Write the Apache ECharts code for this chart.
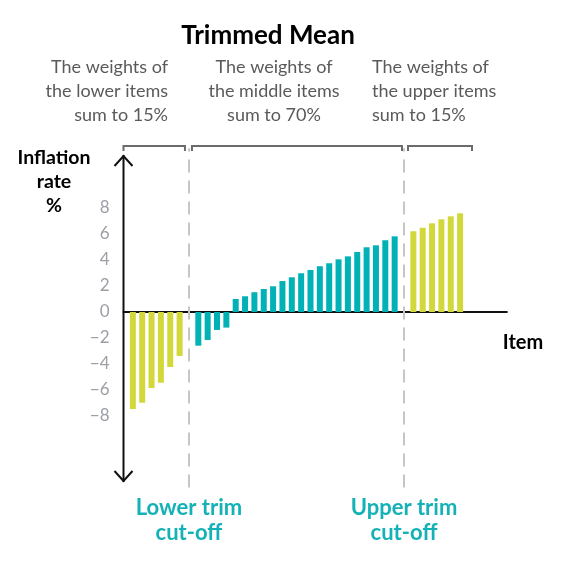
<!DOCTYPE html>
<html>
<head>
<meta charset="utf-8">
<script src="https://cdn.jsdelivr.net/npm/echarts@6/dist/echarts.min.js"></script>
<style>
html,body{margin:0;padding:0;background:#fff;}
#chart{width:573px;height:564px;}
</style>
</head>
<body>
<div id="chart"></div>
<script>
// ---- data ----
var lowerValues = [-7.46, -6.98, -5.85, -5.44, -4.23, -3.38];
var middleValues = [-2.59, -2.15, -1.38, -1.2, 1.0, 1.21, 1.52, 1.77, 1.98, 2.38, 2.67, 2.98, 3.23, 3.52, 3.75, 4.05, 4.28, 4.62, 4.98, 5.13, 5.52, 5.82];
var upperValues = [6.21, 6.48, 6.82, 7.13, 7.36, 7.59];
var yTickLabels = [-8, -6, -4, -2, 0, 2, 4, 6, 8];
var titleText = 'Trimmed Mean';
var lowerNote = 'The weights of\nthe lower items\nsum to 15%';
var middleNote = 'The weights of\nthe middle items\nsum to 70%';
var upperNote = 'The weights of\nthe upper items\nsum to 15%';
var yAxisName = 'Inflation\nrate\n%';
var xAxisName = 'Item';
var lowerCutText = 'Lower trim\ncut-off';
var upperCutText = 'Upper trim\ncut-off';

// ---- build category slots ----
var cats = [], lowerData = [], middleData = [], upperData = [];
function push(name, l, m, u){ cats.push(name); lowerData.push(l); middleData.push(m); upperData.push(u); }
push('start', null, null, null);
lowerValues.forEach(function(v,i){ push('L'+i, v, null, null); });
var lowerCutIdx = cats.length; push('lowerCut', null, null, null);
middleValues.forEach(function(v,i){ push('M'+i, null, v, null); });
var upperCutIdx = cats.length; push('upperCut', null, null, null);
upperValues.forEach(function(v,i){ push('U'+i, null, null, v); });
for (var k = 0; k < 5; k++) push('end'+k, null, null, null);

var FONT = 'Lato';
var YELLOW = '#d3d83a', TEAL = '#00b1b6';
var chart = echarts.init(document.getElementById('chart'));

var option = {
  animation: false,
  grid: { left: 123.5, top: 148.2, bottom: 76.5, right: 66.15, containLabel: false },
  xAxis: {
    type: 'category', data: cats, boundaryGap: false,
    axisLine: { onZero: true, lineStyle: { color: '#111', width: 2 } },
    axisTick: { show: false }, axisLabel: { show: false }, splitLine: { show: false }
  },
  yAxis: {
    type: 'value', min: -13.5, max: 12.6,
    axisLine: { show: false }, axisTick: { show: false }, splitLine: { show: false },
    axisLabel: {
      customValues: yTickLabels, margin: 14,
      color: '#9c9fa6', fontFamily: FONT, fontSize: 17,
      padding: [0, 0, 6, 0],
      formatter: function(v){ return v < 0 ? '\u2212' + Math.abs(v) : String(v); }
    }
  },
  series: [
    { type: 'bar', name: 'lower', data: lowerData, barWidth: 6, barGap: '-100%', itemStyle: { color: YELLOW },
      markLine: { silent: true, symbol: ['none','none'], label: { show: false },
        lineStyle: { color: '#c6c6c6', width: 2, type: [13, 8] },
        data: [{ xAxis: lowerCutIdx }, { xAxis: upperCutIdx }] } },
    { type: 'bar', name: 'middle', data: middleData, barWidth: 6, barGap: '-100%', itemStyle: { color: TEAL } },
    { type: 'bar', name: 'upper', data: upperData, barWidth: 6, barGap: '-100%', itemStyle: { color: YELLOW } }
  ]
};
chart.setOption(option);

var axisX = chart.convertToPixel({ gridIndex: 0 }, [0, 0])[0];
var cutL = chart.convertToPixel({ gridIndex: 0 }, [lowerCutIdx, 0])[0];
var cutU = chart.convertToPixel({ gridIndex: 0 }, [upperCutIdx, 0])[0];
var yTop = chart.convertToPixel({ gridIndex: 0 }, [0, 12.08])[1];
var yBot = chart.convertToPixel({ gridIndex: 0 }, [0, -13.08])[1];

function txt(text, x, y, align, size, weight, color, lh){
  return { type: 'text', x: x, y: y, silent: true,
    style: { text: text, fontFamily: FONT, fontSize: size, fontWeight: weight, fill: color,
      align: align, verticalAlign: 'top', lineHeight: lh } };
}
function bracket(x1, x2){
  return { type: 'polyline', silent: true,
    shape: { points: [[x1, 151], [x1, 146], [x2, 146], [x2, 151]] },
    style: { stroke: '#6b6b6b', lineWidth: 2, fill: null } };
}

chart.setOption({
  graphic: [
    txt(titleText, 268, 21, 'center', 26, 'bold', '#000', 30),
    txt(lowerNote, 168, 55, 'right', 18, 'normal', '#5a5a5a', 24),
    txt(middleNote, 274, 55, 'center', 18, 'normal', '#5a5a5a', 24),
    txt(upperNote, 372, 55, 'left', 18, 'normal', '#5a5a5a', 24),
    txt(yAxisName, 54, 146, 'center', 19.5, 'bold', '#000', 24),
    txt(xAxisName, 523, 331, 'center', 20, 'bold', '#000', 24),
    txt(lowerCutText, cutL, 495.5, 'center', 22, 'bold', '#14b2b7', 25),
    txt(upperCutText, cutU, 495.5, 'center', 22, 'bold', '#14b2b7', 25),
    bracket(axisX, cutL - 4),
    bracket(cutL + 3, cutU - 2),
    bracket(cutU + 4, cutU + 68),
    { type: 'line', silent: true, shape: { x1: axisX, y1: yTop, x2: axisX, y2: yBot },
      style: { stroke: '#111', lineWidth: 2 } },
    { type: 'polyline', silent: true,
      shape: { points: [[axisX - 9, yTop + 11], [axisX, yTop + 1], [axisX + 9, yTop + 11]] },
      style: { stroke: '#111', lineWidth: 2, fill: null } },
    { type: 'polyline', silent: true,
      shape: { points: [[axisX - 9, yBot - 11], [axisX, yBot - 1], [axisX + 9, yBot - 11]] },
      style: { stroke: '#111', lineWidth: 2, fill: null } }
  ]
});
</script>
</body>
</html>
